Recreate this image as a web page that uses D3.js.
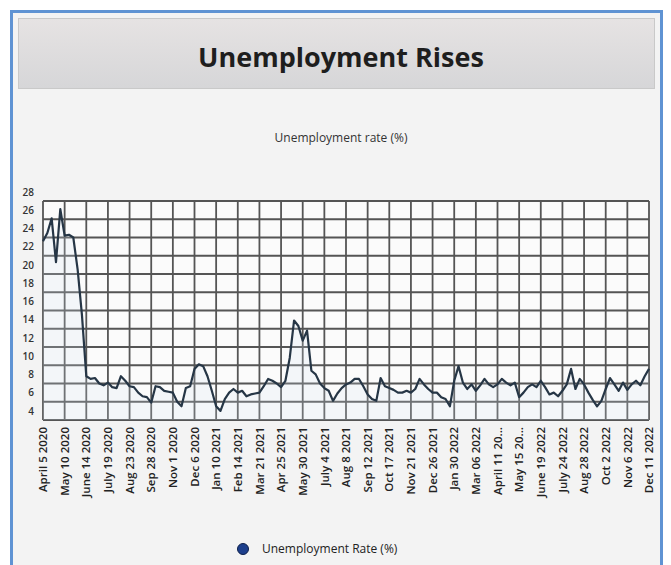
<!DOCTYPE html>
<html>
<head>
<meta charset="utf-8">
<script src="https://cdn.jsdelivr.net/npm/d3@7/dist/d3.min.js"></script>
<style>
  html, body { margin: 0; padding: 0; background: #ffffff; }
  svg { display: block; font-family: "Open Sans", "Noto Sans", sans-serif; }
</style>
</head>
<body>
<svg id="chart" width="671" height="565"></svg>
<script>
// ---- data ----
const chartTitle = "Unemployment Rises";
const seriesName = "Unemployment Rate (%)";
const axisTitle = "Unemployment rate (%)";

// tick labels shown every 5th weekly observation
const tickLabels = [
  "April 5 2020", "May 10 2020", "June 14 2020", "July 19 2020", "Aug 23 2020",
  "Sep 28 2020", "Nov 1 2020", "Dec 6 2020", "Jan 10 2021", "Feb 14 2021",
  "Mar 21 2021", "Apr 25 2021", "May 30 2021", "July 4 2021", "Aug 8 2021",
  "Sep 12 2021", "Oct 17 2021", "Nov 21 2021", "Dec 26 2021", "Jan 30 2022",
  "Mar 06 2022", "April 11 20...", "May 15 20...", "June 19 2022", "July 24 2022",
  "Aug 28 2022", "Oct 2 2022", "Nov 6 2022", "Dec 11 2022"
];

// weekly unemployment rate (%), 141 observations
const rateValues = [
  22.6, 23.5, 25.1, 20.3, 26.1, 23.2, 23.3, 23.0, 19.5, 14.5,
  7.8, 7.5, 7.6, 7.0, 6.8, 7.1, 6.6, 6.5, 7.8, 7.3,
  6.7, 6.6, 6.0, 5.6, 5.5, 4.9, 6.7, 6.6, 6.2, 6.1,
  6.0, 5.0, 4.5, 6.5, 6.7, 8.6, 9.1, 8.9, 7.8, 6.2,
  4.5, 4.0, 5.3, 6.0, 6.4, 6.0, 6.2, 5.6, 5.8, 5.9,
  6.0, 6.7, 7.5, 7.3, 7.0, 6.6, 7.3, 9.8, 13.9, 13.3,
  11.7, 12.8, 8.4, 8.0, 7.0, 6.5, 6.2, 5.1, 5.9, 6.5,
  6.9, 7.1, 7.5, 7.5, 6.7, 5.8, 5.3, 5.1, 7.6, 6.7,
  6.5, 6.3, 6.0, 6.0, 6.2, 6.0, 6.4, 7.5, 6.9, 6.4,
  6.0, 6.0, 5.5, 5.3, 4.5, 7.3, 8.9, 7.1, 6.4, 6.9,
  6.2, 6.8, 7.5, 6.9, 6.6, 6.9, 7.5, 7.1, 6.8, 7.1,
  5.5, 6.0, 6.6, 6.9, 6.6, 7.3, 6.6, 5.8, 6.0, 5.6,
  6.2, 6.9, 8.6, 6.4, 7.5, 6.9, 6.0, 5.2, 4.5, 5.1,
  6.4, 7.6, 6.9, 6.2, 7.1, 6.3, 6.9, 7.3, 6.8, 7.8,
  8.6
];

// y-axis labels and grid rows
const yTickLabels = [4, 6, 8, 10, 12, 14, 16, 18, 20, 22, 24, 26, 28];
const yGridValues = [3, 5, 7, 9, 11, 13, 15, 17, 19, 21, 23, 25, 27];
const labelEvery = 5;

// ---- drawing ----
const svg = d3.select("#chart");

// outer panel
svg.append("rect").attr("x", 11.5).attr("y", 11.5).attr("width", 650).attr("height", 560)
  .attr("fill", "#f3f3f3").attr("stroke", "#5f93d3").attr("stroke-width", 3);

// title box with gradient
const defs = svg.append("defs");
const grad = defs.append("linearGradient").attr("id", "tg").attr("x1", 0).attr("x2", 0).attr("y1", 0).attr("y2", 1);
grad.append("stop").attr("offset", "0%").attr("stop-color", "#e6e3e3");
grad.append("stop").attr("offset", "100%").attr("stop-color", "#d6d6d8");
svg.append("rect").attr("x", 18.5).attr("y", 18.5).attr("width", 636).attr("height", 70)
  .attr("fill", "url(#tg)").attr("stroke", "#c9c9c9").attr("stroke-width", 1);
svg.append("text").attr("x", 341).attr("y", 67).attr("text-anchor", "middle")
  .attr("font-size", 27).attr("font-weight", 700).attr("fill", "#1e1e1e")
  .text(chartTitle);

svg.append("text").attr("x", 341).attr("y", 142).attr("text-anchor", "middle")
  .attr("font-size", 12).attr("fill", "#333").text(axisTitle);

const x = d3.scaleLinear().domain([0, rateValues.length - 1]).range([43, 649]);
const y = d3.scaleLinear().domain([3, 27]).range([420, 201]);

// plot background
svg.append("rect").attr("x", x(0)).attr("y", y(27)).attr("width", x(rateValues.length - 1) - x(0))
  .attr("height", y(3) - y(27)).attr("fill", "#fbfbfb");

// horizontal grid
svg.append("g").selectAll("line").data(yGridValues).join("line")
  .attr("x1", x(0)).attr("x2", x(rateValues.length - 1))
  .attr("y1", d => y(d)).attr("y2", d => y(d))
  .attr("stroke", "#555").attr("stroke-width", 1.8);

// vertical grid / x ticks
const xTickIdx = tickLabels.map((_, i) => i * labelEvery);
svg.append("g").selectAll("line").data(xTickIdx).join("line")
  .attr("x1", d => x(d)).attr("x2", d => x(d))
  .attr("y1", y(27)).attr("y2", y(3))
  .attr("stroke", "#555").attr("stroke-width", 1.8);

// y axis labels (no domain line)
const yAxis = d3.axisLeft(y).tickValues(yTickLabels).tickSize(0).tickPadding(0);
const gy = svg.append("g").attr("transform", "translate(34,0)").call(yAxis);
gy.select(".domain").remove();
gy.selectAll("text").attr("font-size", 10).attr("font-weight", 600).attr("fill", "#333")
  .attr("font-family", "Open Sans, sans-serif");

// x axis labels rotated
const xAxis = d3.axisBottom(x).tickValues(xTickIdx).tickSize(0).tickPadding(0)
  .tickFormat((d, i) => tickLabels[i]);
const gx = svg.append("g").attr("transform", `translate(0,${y(3) + 7})`).call(xAxis);
gx.select(".domain").remove();
gx.selectAll("text")
  .attr("font-size", 11.5).attr("font-weight", 600).attr("fill", "#222")
  .attr("font-family", "Open Sans, sans-serif")
  .attr("text-anchor", "end").attr("transform", "rotate(-90)")
  .attr("dx", 0).attr("dy", "0.32em").attr("x", 0).attr("y", 0);

// faint glow + line
const area = d3.area().x((d, i) => x(i)).y0(y(3)).y1(d => y(d));
svg.append("path").datum(rateValues).attr("d", area).attr("fill", "#d6e8f7").attr("opacity", 0.2);
const line = d3.line().x((d, i) => x(i)).y(d => y(d));
svg.append("path").datum(rateValues).attr("d", line)
  .attr("fill", "none").attr("stroke", "#263646").attr("stroke-width", 2.2)
  .attr("stroke-linejoin", "round");

// legend
svg.append("circle").attr("cx", 243).attr("cy", 549).attr("r", 5.5)
  .attr("fill", "#1d3f8c").attr("stroke", "#0d1f4a").attr("stroke-width", 1);
svg.append("text").attr("x", 262).attr("y", 553).attr("font-size", 12).attr("fill", "#222")
  .text(seriesName);
</script>
</body>
</html>
